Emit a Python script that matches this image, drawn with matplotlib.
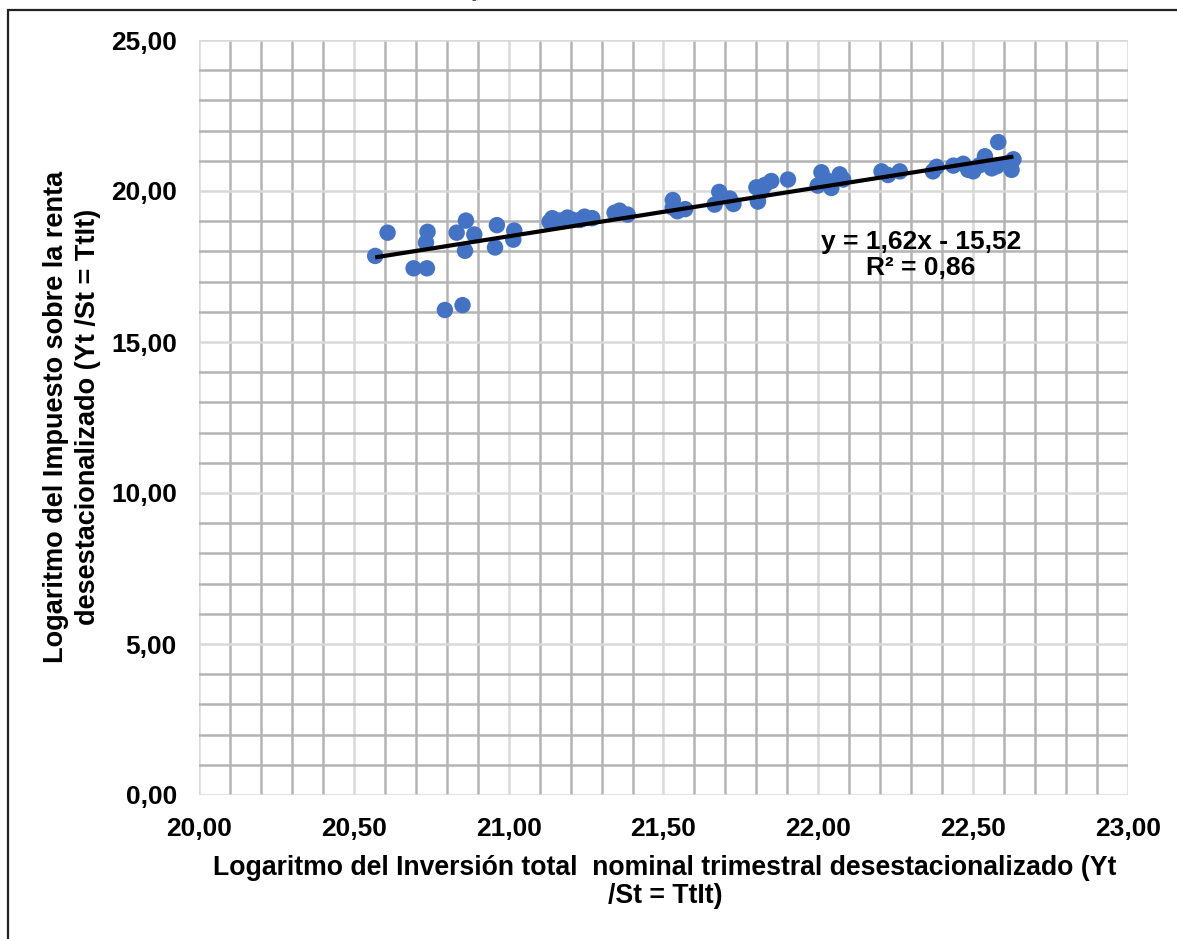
import numpy as np
import matplotlib
matplotlib.use('Agg')
import matplotlib.pyplot as plt
from matplotlib.patches import Rectangle

# Values.
investment_log = [
    20.569, 20.609, 20.693, 20.736, 20.733, 20.738, 20.794, 20.851,
    20.832, 20.862, 20.889, 20.859, 20.956, 20.962, 21.015, 21.018,
    21.132, 21.141, 21.165, 21.190, 21.205, 21.230, 21.245, 21.270,
    21.342, 21.358, 21.384, 21.530, 21.530, 21.545, 21.570, 21.665,
    21.680, 21.714, 21.726, 21.800, 21.805, 21.816, 21.827, 21.848,
    21.902, 21.998, 22.010, 22.026, 22.042, 22.069, 22.080, 22.204,
    22.225, 22.263, 22.370, 22.382, 22.436, 22.468, 22.484, 22.500,
    22.520, 22.538, 22.560, 22.576, 22.581, 22.619, 22.624, 22.630,
]
tax_log = [
    17.85, 18.62, 17.44, 17.44, 18.29, 18.65, 16.06, 16.22,
    18.62, 19.02, 18.56, 18.02, 18.13, 18.87, 18.39, 18.69,
    18.98, 19.10, 19.02, 19.12, 19.05, 19.04, 19.15, 19.10,
    19.28, 19.35, 19.22, 19.70, 19.45, 19.33, 19.40, 19.55,
    19.97, 19.75, 19.57, 20.12, 19.65, 19.98, 20.20, 20.33,
    20.38, 20.18, 20.62, 20.36, 20.10, 20.55, 20.38, 20.65,
    20.53, 20.65, 20.65, 20.80, 20.84, 20.90, 20.70, 20.65,
    20.85, 21.15, 20.75, 20.82, 21.62, 20.95, 20.70, 21.05,
]
slope = 1.62
intercept = -15.52
r_squared = 0.86

x_ticks = [20.0, 20.5, 21.0, 21.5, 22.0, 22.5, 23.0]
y_ticks = [0, 5, 10, 15, 20, 25]

W, H = 1177, 939
plt.rcParams['font.family'] = ['Liberation Sans', 'DejaVu Sans']
plt.rcParams['font.weight'] = 'bold'


def comma(v):
    # Spanish decimal comma, two decimals.
    return ('%.2f' % v).replace('.', ',')


fig = plt.figure(figsize=(W / 100.0, H / 100.0), dpi=100)

# Outer chart border (only left and top visible in the crop).
fig.patches.append(Rectangle((8.0 / W, -0.1), 1.2, 1 - 10.0 / H + 0.1,
                             transform=fig.transFigure, fill=False,
                             edgecolor='#222222', linewidth=1.6))

# Title remnant, almost entirely above the visible area.
fig.text(611.0 / W, 1 + 3.5 / H, 'Impuesto vs Inversión total',
         ha='center', va='baseline', fontsize=19, color='#555555')

ax = fig.add_axes([199.0 / W, 1 - 795.0 / H, 929.0 / W, 755.0 / H])
ax.set_xlim(20, 23)
ax.set_ylim(0, 25)
ax.set_xticks(x_ticks)
ax.set_yticks(y_ticks)
ax.set_xticks(np.arange(20, 23.001, 0.1), minor=True)
ax.set_yticks(np.arange(0, 25.001, 1), minor=True)
ax.set_xticklabels([comma(v) for v in x_ticks])
ax.set_yticklabels([comma(v) for v in y_ticks])
ax.tick_params(which='both', length=0)
ax.tick_params(axis='x', pad=16, labelsize=19)
ax.tick_params(axis='y', pad=16, labelsize=19)
for s in ax.spines.values():
    s.set_visible(False)

ax.grid(which='minor', color='#b4b4b4', linewidth=1.8, zorder=0)
ax.grid(which='major', color='#d9d9d9', linewidth=1.8, zorder=0)
ax.set_axisbelow(True)

ax.scatter(investment_log, tax_log, s=140, color='#4472c4',
           edgecolors='none', zorder=3, clip_on=False)

xfit = np.array([min(investment_log), max(investment_log)])
ax.plot(xfit, slope * xfit + intercept, color='black', linewidth=3.0,
        zorder=4, solid_capstyle='butt')

eq = 'y = %sx - %s\nR² = %s' % (comma(slope), comma(-intercept),
                                 comma(r_squared))
fig.text(921.0 / W, 1 - 255.0 / H, eq, ha='center', va='center',
         fontsize=19, multialignment='center', linespacing=1.1)

fig.text(72.0 / W, 1 - 417.0 / H,
         'Logaritmo del Impuesto sobre la renta\n'
         'desestacionalizado (Yt /St = TtIt)',
         rotation=90, ha='center', va='center', fontsize=19.5,
         multialignment='center', linespacing=1.3)
fig.text(665.0 / W, 1 - 882.0 / H,
         'Logaritmo del Inversión total  nominal trimestral '
         'desestacionalizado (Yt\n/St = TtIt)',
         ha='center', va='center', fontsize=19.2,
         multialignment='center', linespacing=1.1)

fig.savefig('out.png', dpi=100)
